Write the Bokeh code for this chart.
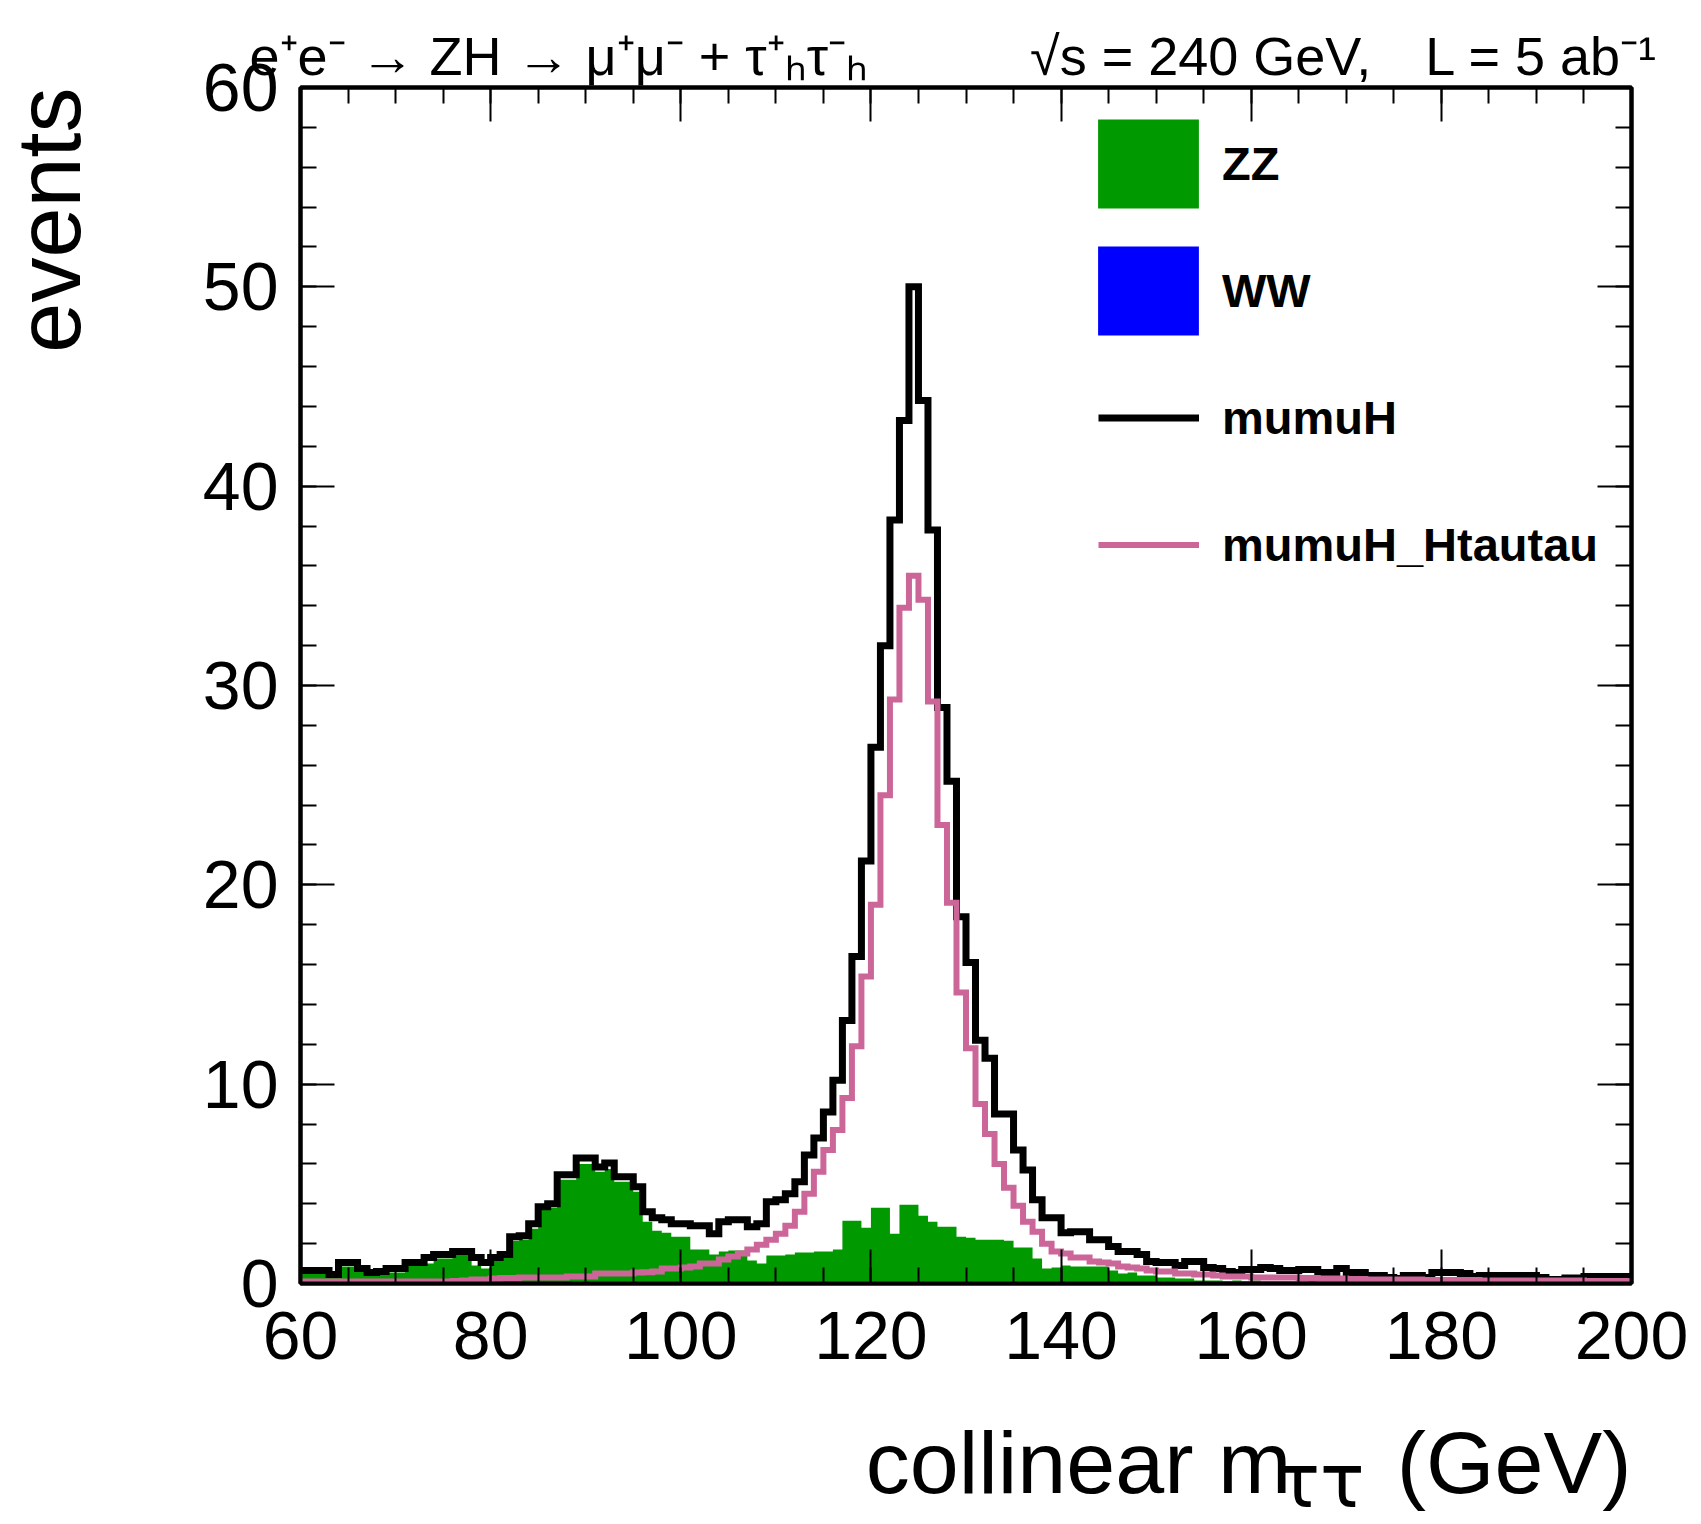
import math
from bokeh.plotting import figure
from bokeh.models import (Range1d, LinearAxis, SingleIntervalTicker, Legend,
                          LegendItem, Label, ColumnDataSource)
from bokeh.embed import file_html
from bokeh.resources import INLINE

# ---------------- data (1 GeV bins from 60 to 200 GeV) ----------------
x_min, x_max, bin_width = 60, 200, 1
bin_edges = list(range(x_min, x_max + 1, bin_width))

zz = [
    0.5, 0.55, 0.55, 0.33, 0.85, 0.85, 0.6, 0.45, 0.5, 0.55,
    0.55, 0.95, 0.95, 1.0, 1.25, 1.25, 1.45, 1.45, 0.9, 0.75,
    1.2, 1.35, 2.15, 2.2, 2.75, 3.7, 3.8, 5.2, 5.2, 6.0,
    6.0, 5.6, 5.75, 5.1, 5.1, 4.6, 3.1, 2.65, 2.55, 2.35,
    2.35, 1.7, 1.7, 1.45, 1.6, 1.65, 1.65, 1.15, 1.0, 1.4,
    1.4, 1.45, 1.55, 1.55, 1.6, 1.6, 1.7, 3.15, 3.15, 2.8,
    3.8, 3.8, 2.5, 3.95, 3.95, 3.4, 3.1, 2.85, 2.85, 2.35,
    2.3, 2.2, 2.2, 2.2, 2.15, 1.8, 1.8, 1.25, 0.75, 0.8,
    0.9, 0.85, 0.85, 0.85, 0.85, 0.65, 0.5, 0.55, 0.4, 0.4,
    0.3, 0.3, 0.25, 0.25, 0.15, 0.15, 0.15, 0.1, 0.15, 0.1,
    0.15, 0.05, 0.05, 0.05, 0.05, 0.05, 0.35, 0.05, 0.0, 0.0,
    0.0, 0.0, 0.0, 0.0, 0.0, 0.0, 0.0, 0.0, 0.0, 0.0,
    0.0, 0.0, 0.0, 0.0, 0.0, 0.0, 0.0, 0.0, 0.1, 0.0,
    0.0, 0.0, 0.0, 0.0, 0.0, 0.0, 0.0, 0.0, 0.0, 0.0,
]

ww = [
    0, 0, 0, 0, 0, 0, 0, 0, 0, 0, 0, 0, 0, 0, 0, 0, 0, 0, 0, 0,
    0, 0, 0, 0, 0, 0, 0, 0, 0, 0, 0, 0, 0, 0, 0, 0, 0, 0, 0, 0,
    0, 0, 0, 0, 0, 0, 0, 0, 0, 0, 0, 0, 0, 0, 0, 0, 0, 0, 0, 0,
    0, 0, 0, 0, 0, 0, 0, 0, 0, 0, 0, 0, 0, 0, 0, 0, 0, 0, 0, 0,
    0, 0, 0, 0, 0, 0, 0, 0, 0, 0, 0, 0, 0, 0, 0, 0, 0, 0, 0, 0,
    0, 0, 0, 0, 0, 0, 0, 0, 0, 0, 0, 0, 0, 0, 0, 0, 0, 0, 0, 0,
    0, 0, 0, 0, 0, 0, 0, 0, 0, 0, 0, 0, 0, 0, 0, 0, 0, 0, 0, 0,
]

mumuH = [
    0.65, 0.65, 0.65, 0.45, 1.05, 1.05, 0.75, 0.55, 0.6, 0.75,
    0.75, 1.05, 1.05, 1.3, 1.45, 1.45, 1.6, 1.6, 1.3, 1.05,
    1.3, 1.45, 2.35, 2.4, 3.0, 3.85, 4.0, 5.45, 5.45, 6.3,
    6.3, 5.85, 6.05, 5.35, 5.35, 4.85, 3.6, 3.3, 3.2, 3.0,
    3.0, 2.9, 2.9, 2.5, 3.1, 3.2, 3.2, 2.85, 3.0, 4.1,
    4.2, 4.5, 5.1, 6.45, 7.3, 8.6, 10.2, 13.2, 16.4, 21.2,
    26.9, 32.0, 38.3, 43.3, 50.0, 44.3, 37.8, 28.9, 25.2, 18.4,
    16.1, 12.2, 11.3, 8.5, 8.5, 6.7, 5.7, 4.2, 3.3, 3.3,
    2.55, 2.6, 2.6, 2.2, 2.2, 1.85, 1.6, 1.6, 1.45, 1.1,
    1.05, 1.05, 0.9, 1.1, 1.1, 0.8, 0.75, 0.6, 0.55, 0.7,
    0.7, 0.8, 0.75, 0.65, 0.65, 0.7, 0.7, 0.55, 0.55, 0.75,
    0.55, 0.55, 0.4, 0.4, 0.3, 0.25, 0.4, 0.4, 0.3, 0.55,
    0.55, 0.55, 0.5, 0.35, 0.4, 0.4, 0.4, 0.4, 0.4, 0.4,
    0.3, 0.2, 0.2, 0.28, 0.28, 0.35, 0.35, 0.35, 0.35, 0.35,
]

mumuH_Htautau = [
    0.1, 0.1, 0.1, 0.1, 0.1, 0.1, 0.1, 0.1, 0.1, 0.1,
    0.1, 0.1, 0.1, 0.1, 0.1, 0.1, 0.12, 0.15, 0.2, 0.2,
    0.25, 0.28, 0.28, 0.3, 0.3, 0.3, 0.3, 0.3, 0.35, 0.35,
    0.35, 0.5, 0.5, 0.5, 0.5, 0.55, 0.57, 0.6, 0.75, 0.75,
    0.8, 0.85, 1.0, 1.0, 1.2, 1.35, 1.5, 1.7, 1.95, 2.2,
    2.5, 2.9, 3.6, 4.5, 5.6, 6.7, 7.7, 9.3, 11.9, 15.4,
    19.0, 24.5, 29.3, 33.9, 35.5, 34.3, 29.2, 23.0, 19.1, 14.6,
    11.8, 9.0, 7.5, 6.0, 4.8, 3.9, 3.1, 2.6, 2.0, 1.6,
    1.5, 1.3, 1.3, 1.1, 1.05, 1.0, 0.85, 0.8, 0.75, 0.65,
    0.6, 0.6, 0.5, 0.5, 0.45, 0.45, 0.4, 0.35, 0.35, 0.35,
    0.3, 0.3, 0.3, 0.3, 0.3, 0.28, 0.28, 0.25, 0.25, 0.25,
    0.22, 0.22, 0.2, 0.2, 0.2, 0.2, 0.2, 0.2, 0.18, 0.18,
    0.18, 0.18, 0.18, 0.18, 0.15, 0.15, 0.15, 0.15, 0.15, 0.15,
    0.15, 0.15, 0.15, 0.15, 0.15, 0.12, 0.12, 0.12, 0.12, 0.12,
]

y_min, y_max = 0, 60
x_tick_step, y_tick_step = 20, 10

header_left = "e\u207ae\u207b \u2192 ZH \u2192 \u03bc\u207a\u03bc\u207b + \u03c4\u207a\u2095\u03c4\u207b\u2095"
header_right = "\u221as = 240 GeV,\u2003L = 5 ab\u207b\u00b9"
header = header_left + "\u2003\u2003\u2003" + header_right
x_title = "collinear m\u2003\u2009(GeV)"
x_title_sub = "\u03c4\u03c4"
y_title = "events"

# ---------------- style ----------------
FONT = "Liberation Sans"
GREEN = "#009900"
BLUE = "#0000ff"
PINK = "#cc6699"

W, H = 1700, 1524
BL, BT = 300, 87
FW, FH = 1331, 1196
BR, BB = W - BL - FW, H - BT - FH
DROP = 0.31   # the renderer draws text about 0.31 em below its anchor

p = figure(width=W, height=H, output_backend="svg", toolbar_location=None,
           x_range=Range1d(x_min, x_max), y_range=Range1d(y_min, y_max),
           min_border_left=BL, min_border_right=BR, min_border_top=BT,
           min_border_bottom=BB, x_axis_location=None, y_axis_location=None)
p.background_fill_color = "white"
p.border_fill_color = "white"
p.outline_line_color = "black"
p.outline_line_width = 4
p.xgrid.visible = False
p.ygrid.visible = False


def ext(vals):
    return list(vals) + [vals[-1]]


zz_top = [a + b for a, b in zip(zz, ww)]
src = ColumnDataSource(dict(
    x=bin_edges,
    base=[0.0] * len(bin_edges),
    zz=ext(zz),
    zzww=ext(zz_top),
    h=ext(mumuH),
    htt=ext(mumuH_Htautau),
))

r_zz = p.varea_step(x="x", y1="base", y2="zz", step_mode="after", source=src,
                    fill_color=GREEN)
r_ww = p.varea_step(x="x", y1="zz", y2="zzww", step_mode="after", source=src,
                    fill_color=BLUE)
r_h = p.step(x="x", y="h", mode="after", source=src, line_color="black",
             line_width=7, line_join="miter")
r_htt = p.step(x="x", y="htt", mode="after", source=src, line_color=PINK,
               line_width=6, line_join="miter")

# ---------------- axes (ROOT style, ticks inside on all sides) ----------------
def style_axis(ax, show_labels):
    ax.axis_line_width = 4
    ax.axis_line_color = "black"
    ax.major_tick_in = 34
    ax.major_tick_out = 0
    ax.minor_tick_in = 16
    ax.minor_tick_out = 0
    ax.major_tick_line_width = 2
    ax.minor_tick_line_width = 2
    ax.major_label_text_font = FONT
    if show_labels:
        ax.major_label_text_font_size = "68px"
        ax.major_label_text_color = "black"
    else:
        ax.major_label_text_font_size = "1px"
        ax.major_label_text_color = None
        ax.major_label_standoff = 0


for loc in ("below", "above"):
    ax = LinearAxis(ticker=SingleIntervalTicker(interval=x_tick_step, num_minor_ticks=4))
    style_axis(ax, loc == "below")
    if loc == "below":
        ax.major_label_standoff = 28
    p.add_layout(ax, loc)

for loc in ("left", "right"):
    ax = LinearAxis(ticker=SingleIntervalTicker(interval=y_tick_step, num_minor_ticks=5))
    style_axis(ax, loc == "left")
    if loc == "left":
        ax.major_label_standoff = 22
    p.add_layout(ax, loc)

# ---------------- legend ----------------
def make_legend(items, loc, gw, standoff):
    lg = Legend(items=items, location=loc)
    lg.glyph_width = gw
    lg.glyph_height = 111
    lg.spacing = 16
    lg.padding = 0
    lg.margin = 0
    lg.label_standoff = standoff
    lg.label_height = 111
    lg.label_text_font = FONT
    lg.label_text_font_size = "47px"
    lg.label_text_font_style = "bold"
    lg.label_text_color = "black"
    lg.border_line_color = None
    lg.background_fill_alpha = 0
    p.add_layout(lg)


make_legend([LegendItem(label="ZZ", renderers=[r_zz]),
             LegendItem(label="WW", renderers=[r_ww])], (785, 937), 126, 11)
make_legend([LegendItem(label="mumuH", renderers=[r_h]),
             LegendItem(label="mumuH_Htautau", renderers=[r_htt])],
            (798, 683), 101, 23)

# ---------------- texts (placed in side panels so they are not clipped) ----------------
def gx(px):   # reference pixel x -> data x
    return x_min + (px - BL) * (x_max - x_min) / FW


def gy(py):   # reference pixel y -> data y
    return y_min + (BT + FH - py) * (y_max - y_min) / FH


def txt(side, x_px, y_px, s, size, align="left", rotated=False, font=FONT):
    if rotated:
        x_px -= DROP * size
        angle = math.pi / 2
    else:
        y_px -= DROP * size
        angle = 0.0
    p.add_layout(Label(x=gx(x_px), y=gy(y_px), text=s, text_font=font,
                       text_font_size=f"{size}px", text_color="black",
                       text_align=align, angle=angle,
                       text_baseline="alphabetic"), side)


txt("above", 249, 72, header, 54)
txt("left", 76, 87, y_title, 90, align="right", rotated=True)
txt("below", 1631, 1489, x_title, 88, align="right")
txt("left", 1275, 1503, x_title_sub, 74, font="DejaVu Sans")

open("out.html", "w").write(file_html(p, INLINE, title="collinear mass"))
